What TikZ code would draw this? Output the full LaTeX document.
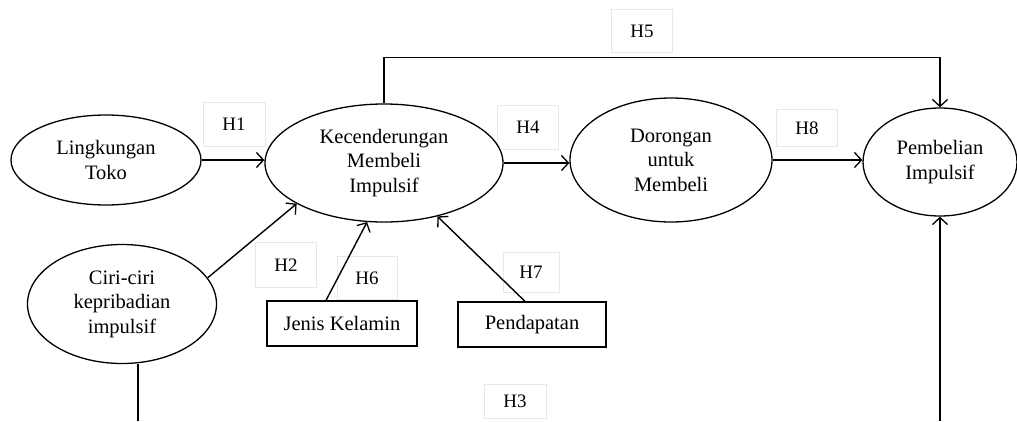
\documentclass[tikz,border=0pt]{standalone}
\usepackage{fontspec}
\setmainfont{Liberation Serif}
\usetikzlibrary{arrows.meta,calc,shapes.geometric}
\tikzset{
  var/.style={draw, ellipse, fill=white, line width=1.3pt, inner sep=0pt, align=center,
    font=\fontsize{20.5}{24.5}\selectfont},
  mod/.style={draw, rectangle, line width=1.3pt, inner sep=0pt, align=center,
    minimum width=150pt, minimum height=45pt, font=\fontsize{20.5}{24.5}\selectfont},
  hlab/.style={draw=black!9, line width=0.8pt, rectangle, inner sep=0pt,
    font=\fontsize{19}{22}\selectfont},
  arr/.style={line width=1.4pt, -{Straight Barb[length=7pt,width=15pt,line width=1.3pt]}},
  plain/.style={line width=2pt}
}
\begin{document}
\begin{tikzpicture}[x=1pt,y=-1pt]
\useasboundingbox (0,0) rectangle (1017,421);
% hypothesis labels
\node[hlab, minimum width=62pt, minimum height=44pt] (h1) at (234,124) {H1\hspace{5pt}};
\node[hlab, minimum width=61pt, minimum height=43pt] (h5) at (642,31) {H5};
\node[hlab, minimum width=61pt, minimum height=44pt] (h4) at (528,127) {H4};
\node[hlab, minimum width=61pt, minimum height=37pt] (h8) at (807,128) {H8};
\node[hlab, minimum width=61pt, minimum height=45pt] (h2) at (286,265) {H2};
\node[hlab, minimum width=60pt, minimum height=43pt] (h6) at (367,278) {H6};
\node[hlab, minimum width=56pt, minimum height=40pt] (h7) at (531,272) {H7};
\node[hlab, minimum width=62pt, minimum height=34pt] (h3) at (515,401) {H3};
% variables
\node[var, minimum width=190pt, minimum height=90pt] (ling) at (106,160) {Lingkungan\\Toko};
\node[var, minimum width=238pt, minimum height=118pt] (kec) at (384,163) {Kecenderungan\\Membeli\\Impulsif};
\node[var, minimum width=202pt, minimum height=124pt] (dor) at (671,160) {Dorongan\\untuk\\Membeli};
\node[var, minimum width=154pt, minimum height=108pt] (pem) at (940,162) {Pembelian\\Impulsif};
\node[var, minimum width=189pt, minimum height=119pt] (ciri) at (122,304) {Ciri-ciri\\kepribadian\\impulsif};
\node[mod] (jk) at (342,323.5) {Jenis Kelamin};
\node[mod, minimum width=148pt] (pend) at (532,324.5) {Pendapatan};
% connectors
\draw[arr] (ling.east) -- (ling.east -| kec.west);
\draw[arr] (kec.east) -- (kec.east -| dor.west);
\draw[arr] (dor.east) -- (dor.east -| pem.west);
\draw[arr] (kec.north) -- ++(0,-46) -| (pem.north);
\draw[arr] (ciri.17) -- (kec.205);
\draw[arr] ([xshift=-16pt]jk.north) -- (kec.254);
\draw[arr] ([xshift=-7pt]pend.north) -- (kec.315);
\coordinate (b1) at (138,421);
\coordinate (b2) at (940,421);
\draw[plain] (b1) -- (b1 |- ciri.south);
\draw[arr, line width=1.8pt] (b2) -- (pem.south);
\end{tikzpicture}
\end{document}
